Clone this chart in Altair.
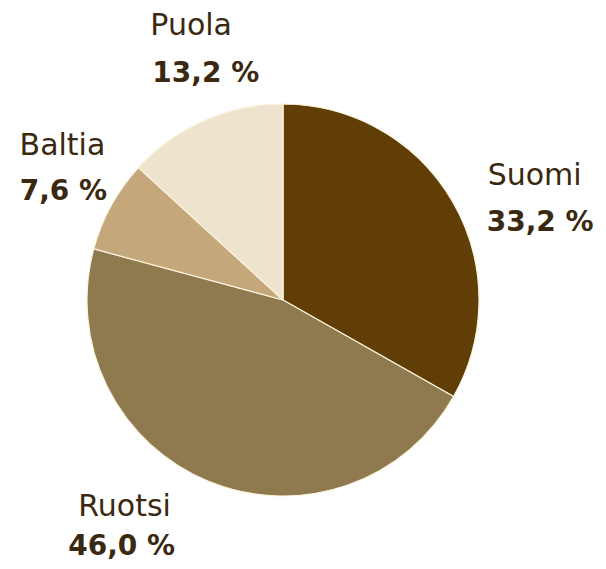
import altair as alt
import pandas as pd

names = ["Suomi", "Ruotsi", "Baltia", "Puola"]
shares = [33.2, 46.0, 7.6, 13.2]
colors = ["#603e06", "#8f7a50", "#c4a87c", "#eee3cd"]

df = pd.DataFrame({"name": names, "share": shares, "idx": list(range(len(names)))})

CX, CY = 275, 292
R_PIE = 196
R_LAB = 230
TEXT_COLOR = "#3a2910"
FONT = "DejaVu Sans"

pie = alt.Chart(df).mark_arc(
    outerRadius=R_PIE, stroke="#fbf3dc", strokeWidth=1.2
).encode(
    theta=alt.Theta("share:Q", stack=True),
    order=alt.Order("idx:Q"),
    color=alt.Color("name:N", scale=alt.Scale(domain=names, range=colors), legend=None),
    x=alt.value(CX),
    y=alt.value(CY),
)

base = alt.Chart(df).transform_joinaggregate(
    total="sum(share)"
).transform_window(
    cum="sum(share)", sort=[alt.SortField("idx")]
).transform_calculate(
    mid="(datum.cum - datum.share / 2) / datum.total * 2 * PI",
    pct="replace(format(datum.share, '.1f'), '.', ',') + ' %'",
)

# per-label offsets: (align, dx1, dy1, dx2, dy2)
offsets = {
    "Suomi": ("left", 6, 1, 5, 47),
    "Ruotsi": ("center", -71, 3, -74, 42),
    "Baltia": ("center", -19, -34, -18, 11),
    "Puola": ("left", -40, -54, -38, -7),
}

layers = [pie]
for nm in names:
    al, dx1, dy1, dx2, dy2 = offsets[nm]
    filt = base.transform_filter(alt.datum.name == nm)
    enc = dict(
        theta=alt.Theta("mid:Q", scale=None, stack=None),
        radius=alt.value(R_LAB),
        x=alt.value(CX),
        y=alt.value(CY),
    )
    layers.append(
        filt.mark_text(align=al, baseline="alphabetic", dx=dx1, dy=dy1,
                       font=FONT, fontSize=30, color=TEXT_COLOR).encode(text="name:N", **enc)
    )
    layers.append(
        filt.mark_text(align=al, baseline="alphabetic", dx=dx2, dy=dy2,
                       font=FONT, fontSize=28, fontWeight="bold", color=TEXT_COLOR).encode(text="pct:N", **enc)
    )

chart = alt.layer(*layers).properties(
    width=590, height=553, padding=0, autosize=alt.AutoSizeParams(type="none"),
    background="white",
).configure_view(stroke=None)

chart.save("out.html", embed_options={"renderer": "svg", "actions": False})
